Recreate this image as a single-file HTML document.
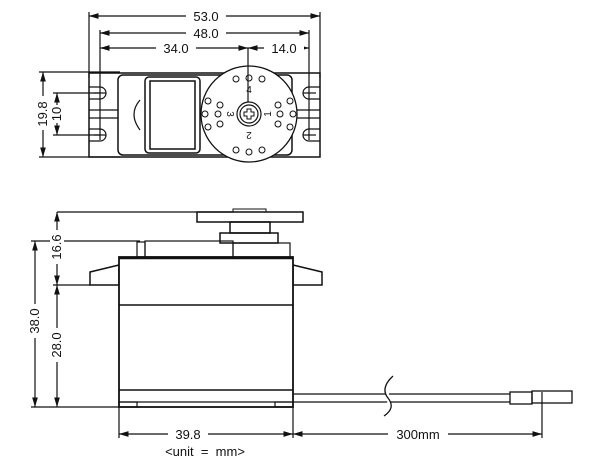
<!DOCTYPE html>
<html><head><style>
html,body{margin:0;padding:0;background:#fff;}
svg text{font-family:"Liberation Sans","DejaVu Sans",sans-serif;fill:#111;}
</style></head><body>
<svg width="600" height="470" viewBox="0 0 600 470" xmlns="http://www.w3.org/2000/svg">
<defs>
<marker id="a" viewBox="0 0 10 6" refX="10" refY="3" markerWidth="8" markerHeight="5" orient="auto-start-reverse"><path d="M0,0L10,3L0,6z" fill="#111"/></marker>
</defs>
<g stroke="#111" stroke-width="1.2" fill="none">
<line x1="89" y1="16" x2="320" y2="16" marker-start="url(#a)" marker-end="url(#a)"/>
<line x1="100" y1="33" x2="309" y2="33" marker-start="url(#a)" marker-end="url(#a)"/>
<line x1="100" y1="48" x2="248" y2="48" marker-start="url(#a)" marker-end="url(#a)"/>
<line x1="248" y1="48" x2="309" y2="48" marker-start="url(#a)" marker-end="url(#a)"/>
<line x1="89" y1="12" x2="89" y2="78"/>
<line x1="320" y1="12" x2="320" y2="78"/>
<line x1="100" y1="30" x2="100" y2="140"/>
<line x1="309" y1="30" x2="309" y2="140"/>
<line x1="43" y1="72" x2="43" y2="157" marker-start="url(#a)" marker-end="url(#a)"/>
<line x1="39" y1="72" x2="120" y2="72"/>
<line x1="39" y1="157" x2="120" y2="157"/>
<line x1="57" y1="93" x2="57" y2="135" marker-start="url(#a)" marker-end="url(#a)"/>
<line x1="53" y1="93" x2="100" y2="93"/>
<line x1="53" y1="135" x2="100" y2="135"/>
<rect x="89" y="73" width="231" height="84" stroke-width="1.5"/>
<line x1="89" y1="110" x2="320" y2="110"/>
<line x1="89" y1="118" x2="320" y2="118"/>
<path d="M89,87 H100 A6,6 0 0 1 100,99 H89"/>
<path d="M89,129 H100 A6,6 0 0 1 100,141 H89"/>
<path d="M320,87 H309 A6,6 0 0 0 309,99 H320"/>
<path d="M320,129 H309 A6,6 0 0 0 309,141 H320"/>
<line x1="94" y1="93" x2="106" y2="93"/><line x1="94" y1="135" x2="106" y2="135"/>
<line x1="303" y1="93" x2="316" y2="93"/><line x1="303" y1="135" x2="316" y2="135"/>
<rect x="118" y="75" width="174" height="80" rx="5" fill="#fff" stroke-width="1.5"/>
<path d="M140,100 Q128,114 140,130"/>
<rect x="145" y="77" width="55" height="76" rx="4" fill="#fff" stroke-width="1.5"/>
<rect x="150" y="81" width="45" height="68" stroke-width="1.5"/>
<circle cx="249" cy="114" r="48" fill="#fff" stroke-width="1.3"/>
<line x1="248" y1="48" x2="248" y2="114"/>
<circle cx="249" cy="114" r="12" fill="#fff"/>
<circle cx="249" cy="114" r="9"/>
<path d="M247,109h4v3h3v4h-3v3h-4v-3h-3v-4h3z" stroke-width="1"/>
<g stroke-width="1">
<circle cx="236" cy="79" r="3"/><circle cx="249" cy="78" r="3"/><circle cx="262" cy="79" r="3"/>
<circle cx="236" cy="150" r="3"/><circle cx="249" cy="152" r="3"/><circle cx="262" cy="150" r="3"/>
<circle cx="208" cy="101" r="3"/><circle cx="205" cy="114" r="3"/><circle cx="208" cy="127" r="3"/>
<circle cx="290" cy="101" r="3"/><circle cx="293" cy="114" r="3"/><circle cx="290" cy="127" r="3"/>
<circle cx="220" cy="105" r="3"/><circle cx="218" cy="114" r="3"/><circle cx="220" cy="124" r="3"/>
<circle cx="278" cy="105" r="3"/><circle cx="280" cy="114" r="3"/><circle cx="278" cy="124" r="3"/>
</g>
<line x1="57" y1="212" x2="233" y2="212"/>
<line x1="57" y1="212" x2="57" y2="285" marker-start="url(#a)" marker-end="url(#a)"/>
<line x1="57" y1="285" x2="57" y2="407" marker-start="url(#a)" marker-end="url(#a)"/>
<line x1="53" y1="285" x2="90" y2="285"/>
<line x1="35" y1="241" x2="35" y2="407" marker-start="url(#a)" marker-end="url(#a)"/>
<line x1="31" y1="241" x2="140" y2="241"/>
<line x1="31" y1="407" x2="119" y2="407"/>
<line x1="119" y1="407" x2="119" y2="438"/>
<line x1="293" y1="407" x2="293" y2="438"/>
<line x1="542" y1="392" x2="542" y2="438"/>
<line x1="119" y1="434" x2="293" y2="434" marker-start="url(#a)" marker-end="url(#a)"/>
<line x1="293" y1="434" x2="542" y2="434" marker-start="url(#a)" marker-end="url(#a)"/>
<rect x="233" y="209" width="33" height="3" stroke-width="1"/>
<rect x="197" y="212" width="106" height="10" stroke-width="1.5"/>
<rect x="230" y="222" width="40" height="11" stroke-width="1.5"/>
<rect x="220" y="233" width="58" height="10" stroke-width="1.5"/>
<rect x="137" y="242" width="8" height="15"/>
<rect x="145" y="241" width="88" height="16"/>
<rect x="233" y="243" width="57" height="14"/>
<polygon points="119,265 90,272 90,285 119,285" stroke-width="1.5"/>
<polygon points="293,265 322,272 322,285 293,285" stroke-width="1.5"/>
<rect x="119" y="257" width="174" height="150" stroke-width="1.8" fill="#fff"/>
<line x1="119" y1="258" x2="293" y2="258" stroke-width="2.5"/>
<line x1="119" y1="305" x2="293" y2="305" stroke-width="1.5"/>
<line x1="119" y1="390" x2="293" y2="390" stroke-width="1.5"/>
<line x1="119" y1="402" x2="293" y2="402"/>
<rect x="119" y="402" width="18" height="5"/>
<rect x="275" y="402" width="18" height="5"/>
<line x1="293" y1="394" x2="510" y2="394"/>
<line x1="293" y1="402" x2="510" y2="402"/>
<path d="M393,376 Q380,388 388,398 Q396,408 384,416" stroke-width="1.3" fill="#fff"/>
<rect x="510" y="392" width="22" height="12" stroke-width="1.3"/>
<rect x="532" y="391" width="40" height="12" stroke-width="1.3"/>
</g>
<g font-size="13" text-anchor="middle">
<rect x="186" y="9" width="40" height="14" fill="#fff"/><text x="206" y="21">53.0</text>
<rect x="186" y="26" width="40" height="14" fill="#fff"/><text x="206" y="38">48.0</text>
<rect x="156" y="41" width="40" height="14" fill="#fff"/><text x="176" y="53">34.0</text>
<rect x="264" y="41" width="40" height="14" fill="#fff"/><text x="284" y="53">14.0</text>
<rect x="36" y="96" width="14" height="34" fill="#fff"/><text transform="translate(47,114) rotate(-90)">19.8</text>
<rect x="50" y="105" width="14" height="18" fill="#fff"/><text transform="translate(61,114) rotate(-90)">10</text>
<rect x="50" y="230" width="14" height="34" fill="#fff"/><text transform="translate(61,247) rotate(-90)">16.6</text>
<rect x="28" y="304" width="14" height="34" fill="#fff"/><text transform="translate(39,321) rotate(-90)">38.0</text>
<rect x="50" y="328" width="14" height="34" fill="#fff"/><text transform="translate(61,345) rotate(-90)">28.0</text>
<rect x="168" y="427" width="40" height="14" fill="#fff"/><text x="188" y="439">39.8</text>
<rect x="388" y="427" width="60" height="14" fill="#fff"/><text x="418" y="439">300mm</text>
<text x="205" y="456" xml:space="preserve">&lt;unit  =  mm&gt;</text>
</g>
<g font-size="10" text-anchor="middle">
<text x="249" y="93">4</text>
<text transform="translate(249,132) rotate(180)">2</text>
<text transform="translate(227,114) rotate(90)">3</text>
<text transform="translate(271,114) rotate(-90)">1</text>
</g>
</svg>
</body></html>
